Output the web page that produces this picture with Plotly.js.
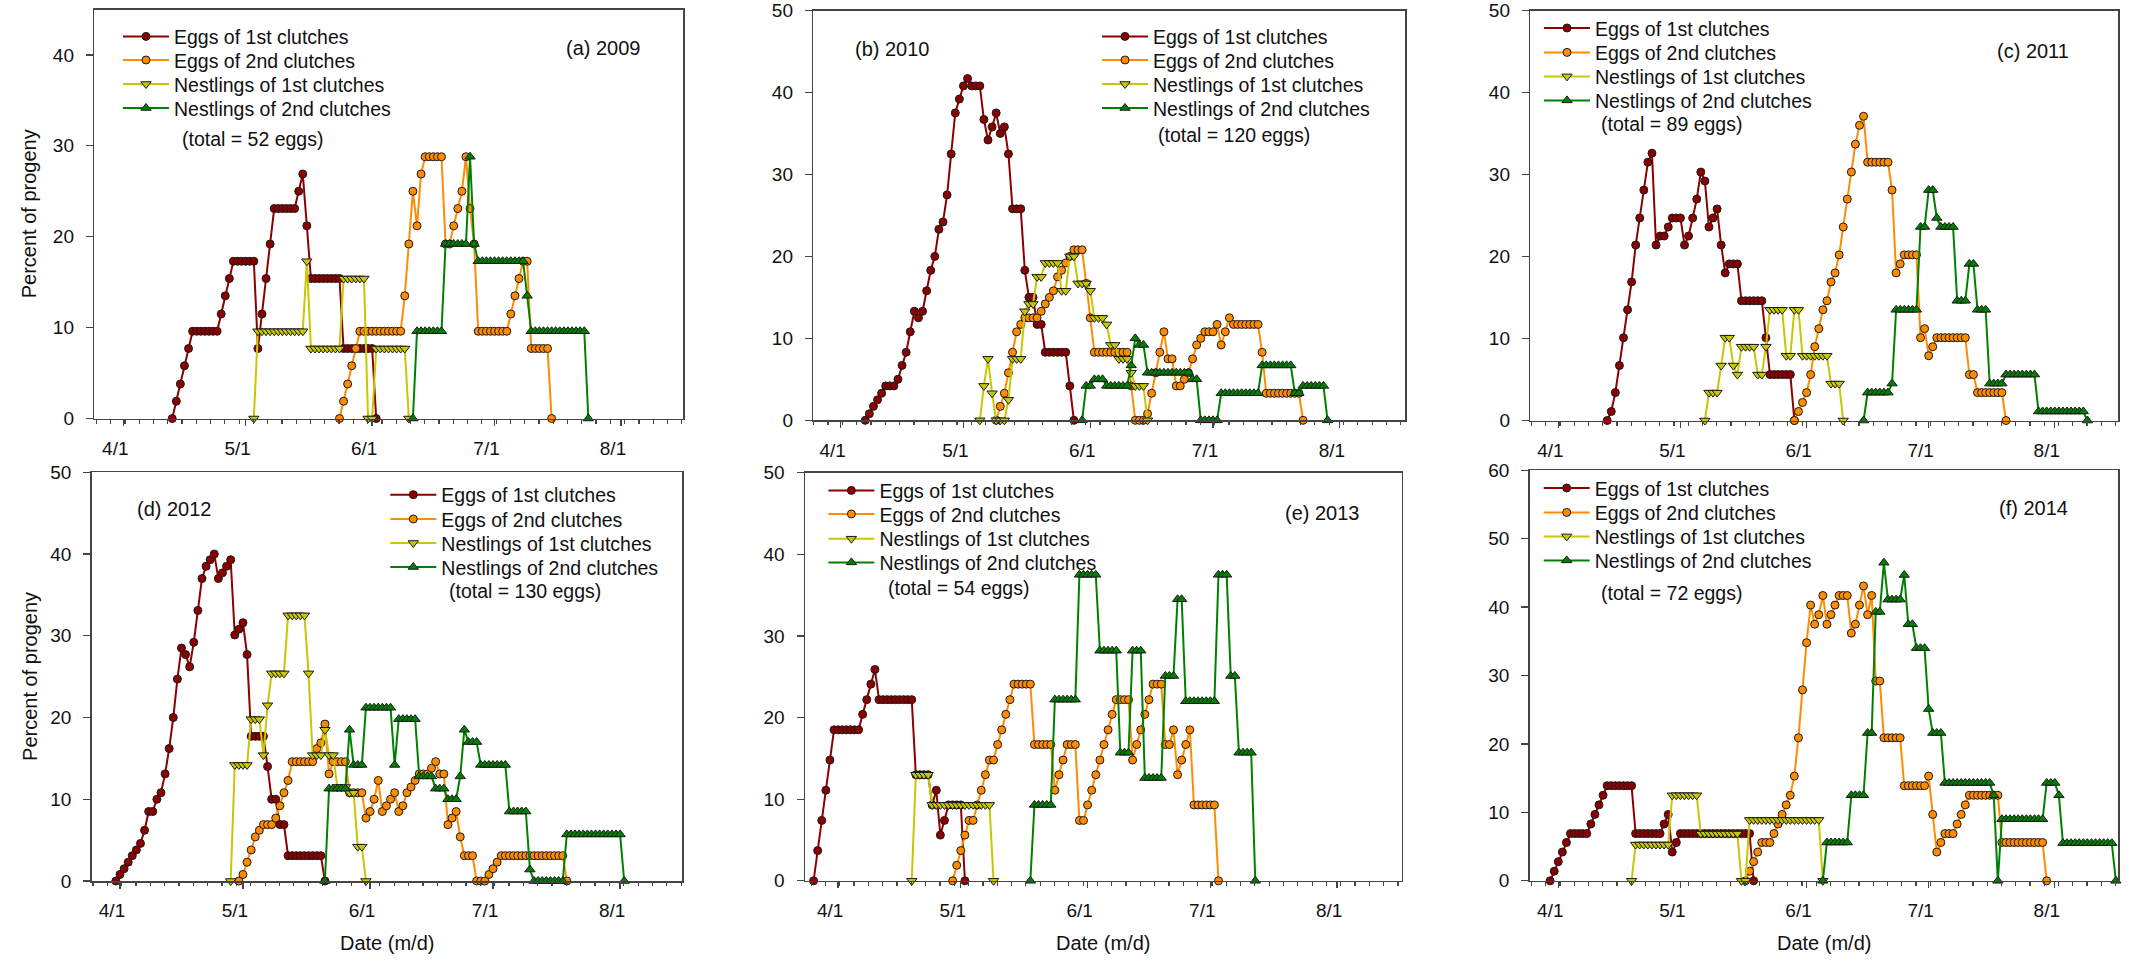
<!DOCTYPE html>
<html><head><meta charset="utf-8">
<script src="https://cdn.plot.ly/plotly-3.0.1.min.js"></script>
<style>html,body{margin:0;padding:0;background:#fff}#chart{width:2134px;height:969px}</style>
</head><body><div id="chart"></div>
<script>
// ---------------- DATA ----------------
const seriesNames = ['Eggs of 1st clutches', 'Eggs of 2nd clutches', 'Nestlings of 1st clutches', 'Nestlings of 2nd clutches'];
const tickLabels = ['4/1', '5/1', '6/1', '7/1', '8/1'];
const tickMonthDays = ['04-01', '05-01', '06-01', '07-01', '08-01'];
const yTickValues = [0, 10, 20, 30, 40, 50, 60];
const years = [2009, 2010, 2011, 2012, 2013, 2014];
const panelLabels = ['(a) 2009', '(b) 2010', '(c) 2011', '(d) 2012', '(e) 2013', '(f) 2014'];
const totalLabels = ['(total = 52 eggs)', '(total = 120 eggs)', '(total = 89 eggs)', '(total = 130 eggs)', '(total = 54 eggs)', '(total = 72 eggs)'];
const yTitle = 'Percent of progeny';
const xTitle = 'Date (m/d)';

// first date of each daily series
const eggs1Start = ['2009-04-13', '2010-04-07', '2011-04-13', '2012-03-31', '2013-03-26', '2014-03-30'];
const eggs2Start = ['2009-05-24', '2010-05-09', '2011-05-29', '2012-04-30', '2013-04-29', '2014-05-17'];
const nest1Start = ['2009-05-03', '2010-05-05', '2011-05-07', '2012-04-28', '2013-04-19', '2014-04-19'];
const nest2Start = ['2009-06-11', '2010-05-30', '2011-06-15', '2012-05-21', '2013-05-18', '2014-06-05'];

// 2009
const eggs1_2009 = [0,1.9,3.8,5.8,7.7,9.6,9.6,9.6,9.6,9.6,9.6,9.6,11.5,13.5,15.4,17.3,17.3,17.3,17.3,17.3,17.3,7.7,11.5,15.4,19.2,23.1,23.1,23.1,23.1,23.1,23.1,25.0,26.9,21.2,15.4,15.4,15.4,15.4,15.4,15.4,15.4,15.4,7.7,7.7,7.7,7.7,7.7,7.7,7.7,7.7,0];
const eggs2_2009 = [0,1.9,3.8,5.8,7.7,9.6,9.6,9.6,9.6,9.6,9.6,9.6,9.6,9.6,9.6,9.6,13.5,19.2,25.0,21.2,26.9,28.8,28.8,28.8,28.8,28.8,19.2,19.2,21.2,23.1,25.0,28.8,23.1,19.2,9.6,9.6,9.6,9.6,9.6,9.6,9.6,9.6,11.5,13.5,15.4,17.3,17.3,7.7,7.7,7.7,7.7,7.7,0];
const nest1_2009 = [0,9.6,9.6,9.6,9.6,9.6,9.6,9.6,9.6,9.6,9.6,9.6,9.6,17.3,7.7,7.7,7.7,7.7,7.7,7.7,7.7,7.7,15.4,15.4,15.4,15.4,15.4,15.4,0,0,7.7,7.7,7.7,7.7,7.7,7.7,7.7,7.7,0];
const nest2_2009 = [0,9.6,9.6,9.6,9.6,9.6,9.6,9.6,19.2,19.2,19.2,19.2,19.2,19.2,28.8,19.2,17.3,17.3,17.3,17.3,17.3,17.3,17.3,17.3,17.3,17.3,17.3,17.3,13.5,9.6,9.6,9.6,9.6,9.6,9.6,9.6,9.6,9.6,9.6,9.6,9.6,9.6,9.6,0];

// 2010
const eggs1_2010 = [0,0.8,1.7,2.5,3.3,4.2,4.2,4.2,5.0,6.7,8.3,10.8,13.3,12.5,13.3,15.8,18.3,20.0,23.3,24.2,27.5,32.5,37.5,39.2,40.8,41.7,40.8,40.8,40.8,36.7,34.2,35.8,37.5,35.0,35.8,32.5,25.8,25.8,25.8,18.3,15.0,15.0,11.7,11.7,8.3,8.3,8.3,8.3,8.3,8.3,4.2,0];
const eggs2_2010 = [0,1.7,3.3,5.8,8.3,10.8,11.7,12.5,12.5,12.5,12.5,13.3,14.2,15.0,15.8,17.5,18.3,19.2,20.0,20.8,20.8,20.8,16.7,12.5,8.3,8.3,8.3,8.3,8.3,8.3,8.3,8.3,8.3,4.2,0,0,0,0.8,3.3,5.8,8.3,10.8,7.5,7.5,4.2,4.2,5.0,5.8,7.5,9.2,10.0,10.8,10.8,10.8,11.7,9.2,10.8,12.5,11.7,11.7,11.7,11.7,11.7,11.7,11.7,8.3,3.3,3.3,3.3,3.3,3.3,3.3,3.3,3.3,3.3,0];
const nest1_2010 = [0,4.2,7.5,3.3,0,0,0,2.5,7.5,7.5,7.5,13.3,14.2,14.2,17.5,17.5,19.2,19.2,19.2,19.2,15.8,15.8,20.0,20.0,16.7,16.7,16.7,15.8,12.5,12.5,12.5,11.7,9.2,9.2,7.5,7.5,7.5,5.8,4.2,4.2,4.2,0];
const nest2_2010 = [0,4.2,4.2,5.0,5.0,5.0,4.2,4.2,4.2,4.2,4.2,4.2,6.7,10.0,9.2,9.2,5.8,5.8,5.8,5.8,5.8,5.8,5.8,5.8,5.8,5.8,5.8,5.0,5.0,0,0,0,0,0,3.3,3.3,3.3,3.3,3.3,3.3,3.3,3.3,3.3,3.3,6.7,6.7,6.7,6.7,6.7,6.7,6.7,6.7,3.3,3.3,4.2,4.2,4.2,4.2,4.2,4.2,0];

// 2011
const eggs1_2011 = [0,1.1,3.4,6.7,10.1,13.5,16.9,21.4,24.7,28.1,31.5,32.6,21.4,22.5,22.5,23.6,24.7,24.7,24.7,21.4,22.5,24.7,27.0,30.3,29.2,23.6,24.7,25.8,21.4,18.0,19.1,19.1,19.1,14.6,14.6,14.6,14.6,14.6,14.6,10.1,5.6,5.6,5.6,5.6,5.6,5.6,0];
const eggs2_2011 = [0,1.1,2.2,3.4,5.6,9.0,11.2,13.5,14.6,16.9,18.0,20.2,23.6,27.0,30.3,33.7,36.0,37.1,31.5,31.5,31.5,31.5,31.5,31.5,28.1,18.0,19.1,20.2,20.2,20.2,20.2,10.1,11.2,7.9,9.0,10.1,10.1,10.1,10.1,10.1,10.1,10.1,10.1,5.6,5.6,3.4,3.4,3.4,3.4,3.4,3.4,3.4,0];
const nest1_2011 = [0,3.4,3.4,3.4,6.7,10.1,10.1,6.7,5.6,9.0,9.0,9.0,9.0,5.6,5.6,9.0,13.5,13.5,13.5,13.5,7.9,7.9,13.5,13.5,7.9,7.9,7.9,7.9,7.9,7.9,7.9,4.5,4.5,4.5,0];
const nest2_2011 = [0,3.4,3.4,3.4,3.4,3.4,3.4,4.5,13.5,13.5,13.5,13.5,13.5,13.5,23.6,23.6,28.1,28.1,24.7,23.6,23.6,23.6,23.6,14.6,14.6,14.6,19.1,19.1,13.5,13.5,13.5,4.5,4.5,4.5,4.5,5.6,5.6,5.6,5.6,5.6,5.6,5.6,5.6,1.1,1.1,1.1,1.1,1.1,1.1,1.1,1.1,1.1,1.1,1.1,1.1,0];

// 2012
const eggs1_2012 = [0,0.8,1.5,2.3,3.1,3.8,4.6,6.2,8.5,8.5,10.0,10.8,13.1,16.2,20.0,24.7,28.5,27.7,26.2,29.2,33.1,37.0,38.5,39.3,40.0,37.0,37.7,38.5,39.3,30.1,30.8,31.6,27.7,17.7,17.7,17.7,17.7,14.0,10.0,10.0,6.9,6.9,3.1,3.1,3.1,3.1,3.1,3.1,3.1,3.1,3.1,0];
const eggs2_2012 = [0,0.8,2.3,3.8,5.4,6.2,6.9,6.9,6.9,7.7,9.2,10.8,12.3,14.6,14.6,14.6,14.6,14.6,14.6,16.2,16.9,19.2,13.1,14.6,14.6,14.6,14.6,10.8,10.8,10.8,10.8,7.7,8.5,10.0,12.3,8.5,9.2,10.0,10.8,8.5,9.2,10.8,11.5,12.3,13.1,13.1,13.1,13.8,14.6,13.1,13.1,6.9,7.7,8.5,5.4,3.1,3.1,3.1,0,0,0,0.8,1.5,2.3,3.1,3.1,3.1,3.1,3.1,3.1,3.1,3.1,3.1,3.1,3.1,3.1,3.1,3.1,3.1,3.1,0];
const nest1_2012 = [0,14.2,14.2,14.2,14.2,19.8,19.8,19.8,15.4,21.5,25.4,25.4,25.4,25.4,32.5,32.5,32.5,32.5,32.5,25.4,15.4,15.4,15.4,18.5,15.4,15.4,11.5,11.5,11.5,10.8,10.8,4.2,4.2,0];
const nest2_2012 = [0,11.3,11.3,11.3,11.3,11.3,18.5,14.2,14.2,14.2,21.2,21.2,21.2,21.2,21.2,21.2,21.2,14.2,19.8,19.8,19.8,19.8,19.8,12.8,12.8,12.8,12.8,11.3,11.3,11.3,10.0,10.0,10.0,12.8,18.5,17.0,17.0,17.0,14.2,14.2,14.2,14.2,14.2,14.2,14.2,8.5,8.5,8.5,8.5,8.5,1.4,0,0,0,0,0,0,0,0,5.7,5.7,5.7,5.7,5.7,5.7,5.7,5.7,5.7,5.7,5.7,5.7,5.7,5.7,0];

// 2013
const eggs1_2013 = [0,3.7,7.4,11.1,14.8,18.5,18.5,18.5,18.5,18.5,18.5,18.5,20.4,22.2,24.1,25.9,22.2,22.2,22.2,22.2,22.2,22.2,22.2,22.2,22.2,13.0,13.0,13.0,13.0,9.3,11.1,5.6,7.4,9.3,9.3,9.3,9.3,0];
const eggs2_2013 = [0,1.9,3.7,5.6,7.4,7.4,9.3,11.1,13.0,14.8,14.8,16.7,18.5,20.4,22.2,24.1,24.1,24.1,24.1,24.1,16.7,16.7,16.7,16.7,16.7,11.1,13.0,14.8,16.7,16.7,16.7,7.4,7.4,9.3,11.1,13.0,14.8,16.7,18.5,20.4,22.2,22.2,22.2,22.2,14.8,16.7,18.5,20.4,22.2,24.1,24.1,24.1,16.7,16.7,18.5,13.0,14.8,16.7,18.5,9.3,9.3,9.3,9.3,9.3,9.3,0];
const nest1_2013 = [0,13.0,13.0,13.0,13.0,9.3,9.3,9.3,9.3,9.3,9.3,9.3,9.3,9.3,9.3,9.3,9.3,9.3,9.3,9.3,0];
const nest2_2013 = [0,9.3,9.3,9.3,9.3,9.3,22.2,22.2,22.2,22.2,22.2,22.2,37.5,37.5,37.5,37.5,37.5,28.2,28.2,28.2,28.2,28.2,15.7,15.7,15.7,28.2,28.2,28.2,12.6,12.6,12.6,12.6,12.6,25.1,25.1,25.1,34.5,34.5,22.0,22.0,22.0,22.0,22.0,22.0,22.0,22.0,37.5,37.5,37.5,25.1,25.1,15.7,15.7,15.7,15.7,0];

// 2014
const eggs1_2014 = [0,1.4,2.8,4.2,5.6,6.9,6.9,6.9,6.9,6.9,8.3,9.7,11.1,12.5,13.9,13.9,13.9,13.9,13.9,13.9,13.9,6.9,6.9,6.9,6.9,6.9,6.9,6.9,8.3,9.7,4.2,5.6,6.9,6.9,6.9,6.9,6.9,6.9,6.9,6.9,6.9,6.9,6.9,6.9,6.9,6.9,6.9,6.9,6.9,6.9,0];
const eggs2_2014 = [0,1.4,2.8,4.2,5.6,5.6,5.6,6.9,8.3,9.7,11.1,12.5,15.3,20.9,27.9,34.8,40.3,37.5,38.9,41.7,37.5,38.9,40.3,41.7,41.7,41.7,36.2,37.5,40.3,43.1,38.9,41.7,29.2,29.2,20.9,20.9,20.9,20.9,20.9,13.9,13.9,13.9,13.9,13.9,13.9,15.3,9.7,4.2,5.6,6.9,6.9,6.9,8.3,9.7,11.1,12.5,12.5,12.5,12.5,12.5,12.5,12.5,12.5,5.6,5.6,5.6,5.6,5.6,5.6,5.6,5.6,5.6,5.6,5.6,0];
const nest1_2014 = [0,5.3,5.3,5.3,5.3,5.3,5.3,5.3,5.3,5.3,12.5,12.5,12.5,12.5,12.5,12.5,12.5,6.9,6.9,6.9,6.9,6.9,6.9,6.9,6.9,6.9,6.9,0,0,8.9,8.9,8.9,8.9,8.9,8.9,8.9,8.9,8.9,8.9,8.9,8.9,8.9,8.9,8.9,8.9,8.9,8.9,0];
const nest2_2014 = [0,5.6,5.6,5.6,5.6,5.6,5.6,12.5,12.5,12.5,12.5,21.6,21.6,39.3,39.3,46.5,41.1,41.1,41.1,41.1,44.7,37.5,37.5,34.0,34.0,34.0,25.1,21.6,21.6,21.6,14.3,14.3,14.3,14.3,14.3,14.3,14.3,14.3,14.3,14.3,14.3,14.3,12.5,0,9.0,9.0,9.0,9.0,9.0,9.0,9.0,9.0,9.0,9.0,9.0,14.3,14.3,14.3,12.5,5.5,5.5,5.5,5.5,5.5,5.5,5.5,5.5,5.5,5.5,5.5,5.5,5.5,0];

const eggs1 = [eggs1_2009, eggs1_2010, eggs1_2011, eggs1_2012, eggs1_2013, eggs1_2014];
const eggs2 = [eggs2_2009, eggs2_2010, eggs2_2011, eggs2_2012, eggs2_2013, eggs2_2014];
const nest1 = [nest1_2009, nest1_2010, nest1_2011, nest1_2012, nest1_2013, nest1_2014];
const nest2 = [nest2_2009, nest2_2010, nest2_2011, nest2_2012, nest2_2013, nest2_2014];

// ---------------- LAYOUT / STYLE ----------------
const W = 2134, H = 969;
const FONT = 'Liberation Sans, Arial, Helvetica, sans-serif';
const styles = [
  {line: '#8B0000', fill: '#8B0000', symbol: 'circle', size: 8},
  {line: '#FF8C00', fill: '#FF8C00', symbol: 'circle', size: 8},
  {line: '#C8C800', fill: '#C8C800', symbol: 'triangle-down', size: 9},
  {line: '#008000', fill: '#008000', symbol: 'triangle-up', size: 9}
];
// panel boxes in pixels: left, right, top, bottom; x range in days from 4/1; y max
const geo = [
  {l: 94.3, r: 683, t: 9.5, b: 418.5, d0: -7.1, d1: 137.2, ymax: 45},
  {l: 813.3, r: 1405.3, t: 10.5, b: 420.3, d0: -6.7, d1: 138.0, ymax: 50},
  {l: 1530.3, r: 2118.3, t: 10.5, b: 420.5, d0: -6.9, d1: 137.6, ymax: 50},
  {l: 91.7, r: 682, t: 472.3, b: 881, d0: -6.9, d1: 137.1, ymax: 50},
  {l: 805, r: 1401.7, t: 472.8, b: 880.8, d0: -8.1, d1: 137.8, ymax: 50},
  {l: 1529.6, r: 2118.3, t: 470.3, b: 880.8, d0: -7.05, d1: 137.6, ymax: 60}
];
const legendPos = [
  {x: 123, ys: [36.7, 60.3, 84.3, 108.3]},
  {x: 1102, ys: [36.7, 60.3, 84.3, 108.3]},
  {x: 1544, ys: [28.3, 52.7, 76.7, 100.7]},
  {x: 390.3, ys: [495, 519.3, 543.3, 567.3]},
  {x: 828.4, ys: [490.7, 514.3, 539, 562.7]},
  {x: 1543.7, ys: [488.3, 512.7, 536.7, 560.7]}
];
const labelPos = [[564, 48.3], [853, 49.3], [1994.5, 50.7], [135.2, 509.3], [1283, 513.3], [1996.5, 508.3]];
const totalPos = [[179.6, 139.3], [1155.8, 135], [1598.5, 124], [446.7, 591], [886, 588.3], [1598.5, 592.7]];

const px = v => v / W;
const py = v => 1 - v / H;
function dailyDates(start, n) {
  const [y, m, d] = start.split('-').map(Number);
  const out = [];
  for (let i = 0; i < n; i++) out.push(new Date(Date.UTC(y, m - 1, d + i)).toISOString().slice(0, 10));
  return out;
}
function offsetDate(year, days) {
  return new Date(Date.UTC(year, 3, 1) + days * 86400000).toISOString().replace('T', ' ').slice(0, 19);
}

const traces = [];
const layout = {
  width: W, height: H,
  margin: {l: 0, r: 0, t: 0, b: 0, pad: 0},
  paper_bgcolor: '#ffffff', plot_bgcolor: '#ffffff',
  font: {family: FONT, size: 19, color: '#111111'},
  showlegend: true,
  annotations: []
};

const allSeries = [eggs1, eggs2, nest1, nest2];
const allStarts = [eggs1Start, eggs2Start, nest1Start, nest2Start];

years.forEach((year, p) => {
  const g = geo[p];
  const xa = p === 0 ? 'x' : 'x' + (p + 1);
  const ya = p === 0 ? 'y' : 'y' + (p + 1);
  const xKey = p === 0 ? 'xaxis' : 'xaxis' + (p + 1);
  const yKey = p === 0 ? 'yaxis' : 'yaxis' + (p + 1);

  allSeries.forEach((ser, s) => {
    const vals = ser[p];
    const st = styles[s];
    const li = p * 4 + s + 1;
    const legKey = li === 1 ? 'legend' : 'legend' + li;
    traces.push({
      type: 'scatter', mode: 'lines+markers',
      name: seriesNames[s],
      x: dailyDates(allStarts[s][p], vals.length), y: vals,
      xaxis: xa, yaxis: ya, legend: legKey,
      line: {color: st.line, width: 2},
      marker: {symbol: st.symbol, size: st.size, color: st.fill, line: {color: '#1a1a1a', width: 1}},
      cliponaxis: false,
      hoverinfo: 'x+y+name'
    });
    layout[legKey] = {
      x: px(legendPos[p].x - 5), xanchor: 'left',
      y: py(legendPos[p].ys[s]), yanchor: 'middle',
      bgcolor: 'rgba(0,0,0,0)', borderwidth: 0,
      font: {family: FONT, size: 19.5, color: '#111111'},
      itemwidth: 46, itemclick: false, itemdoubleclick: false
    };
  });

  layout[xKey] = {
    type: 'date', anchor: ya,
    domain: [px(g.l), px(g.r)],
    range: [offsetDate(year, g.d0), offsetDate(year, g.d1)],
    tickmode: 'array',
    tickvals: tickMonthDays.map(md => year + '-' + md),
    ticktext: tickLabels,
    ticks: 'outside', ticklen: 6, tickwidth: 1.3, tickcolor: '#444444',
    ticklabelshift: -8, ticklabelstandoff: 6, ticklabeloverflow: 'allow',
    tickfont: {family: FONT, size: 19, color: '#111111'},
    minor: {ticks: 'outside', ticklen: 3.5, tickwidth: 1.2, tickcolor: '#444444', tickmode: 'linear',
            tick0: offsetDate(year, 0.4), dtick: 3.5 * 86400000, showgrid: false},
    showline: true, linecolor: '#444444', linewidth: 1.5, mirror: true,
    showgrid: false, zeroline: false, fixedrange: true
  };
  const yt = yTickValues.filter(v => v <= g.ymax);
  layout[yKey] = {
    anchor: xa,
    domain: [py(g.b), py(g.t)],
    range: [0, g.ymax],
    tickmode: 'array', tickvals: yt, ticktext: yt.map(String),
    ticks: 'outside', ticklen: 7, tickwidth: 1.3, tickcolor: '#444444',
    ticklabelstandoff: 8, ticklabeloverflow: 'allow',
    tickfont: {family: FONT, size: 19, color: '#111111'},
    showline: true, linecolor: '#444444', linewidth: 1.5, mirror: true,
    showgrid: false, zeroline: false, fixedrange: true
  };

  const ann = (text, x, y, extra) => Object.assign({
    text, x: px(x), y: py(y), xref: 'paper', yref: 'paper',
    xanchor: 'left', yanchor: 'middle', showarrow: false,
    font: {family: FONT, size: 19.5, color: '#111111'}
  }, extra || {});
  layout.annotations.push(ann(panelLabels[p], labelPos[p][0], labelPos[p][1], {font: {family: FONT, size: 20, color: '#111111'}}));
  layout.annotations.push(ann(totalLabels[p], totalPos[p][0], totalPos[p][1]));
  if (p >= 3) {
    layout.annotations.push(ann(xTitle, (g.l + g.r) / 2, 943.3, {xanchor: 'center', font: {family: FONT, size: 20, color: '#111111'}}));
  }
  if (p === 0 || p === 3) {
    layout.annotations.push(ann(yTitle, 29.3, (g.t + g.b) / 2, {xanchor: 'center', textangle: -90, font: {family: FONT, size: 20, color: '#111111'}}));
  }
});

Plotly.newPlot('chart', traces, layout, {displayModeBar: false, staticPlot: true});
</script>
</body></html>
